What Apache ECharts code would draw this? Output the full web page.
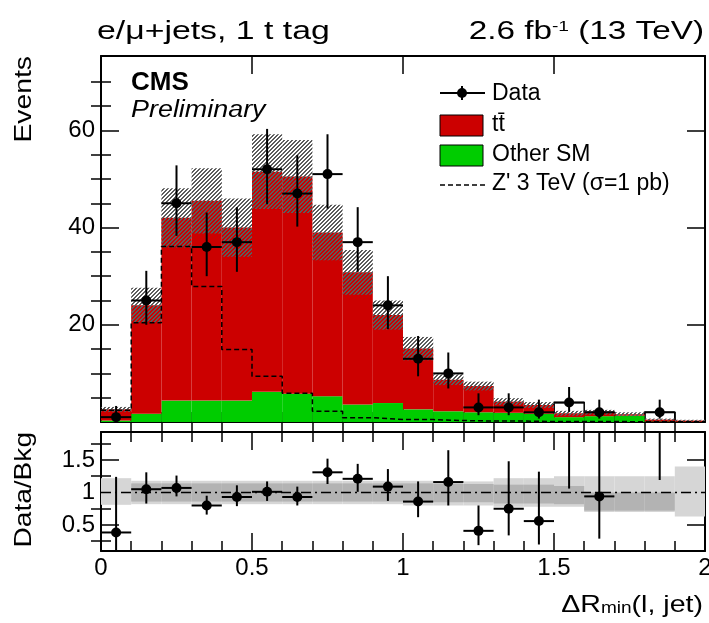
<!DOCTYPE html>
<html>
<head>
<meta charset="utf-8">
<script src="https://cdn.jsdelivr.net/npm/echarts@6/dist/echarts.min.js"></script>
<style>
  html, body { margin: 0; padding: 0; background: #fff; }
  #chart { width: 709px; height: 623px; }
</style>
</head>
<body>
<div id="chart"></div>
<script>
// binning of dR_min(l, jet)
const binEdges = [0, 0.1, 0.2, 0.3, 0.4, 0.5, 0.6, 0.7, 0.8, 0.9, 1.0,
  1.1, 1.2, 1.3, 1.4, 1.5, 1.6, 1.7, 1.8, 1.9, 2.0];
// stacked backgrounds (events per bin)
const ttbar = [2.3, 22.3, 37.6, 41.1, 35.6, 45.3, 44.7, 33.7, 27.2, 18.1,
  12.5, 6.5, 5.4, 2.3, 1.8, 0.8, 0.8, 0.3, 0.4, 0.25];
const otherSM = [0.3, 1.7, 4.4, 4.4, 4.4, 6.2, 5.8, 5.3, 3.6, 3.9,
  2.6, 2.2, 2.0, 1.9, 1.7, 1.0, 1.2, 1.3, 0.1, 0.05];
// half width of the hatched uncertainty band
const bkgUnc = [0.5, 3.6, 6.1, 6.7, 6.0, 7.7, 7.5, 5.7, 4.6, 3.0,
  2.4, 1.1, 0.9, 0.7, 0.6, 0.5, 0.5, 0.4, 0.2, 0.15];
// Z' 3 TeV signal, dashed
const zPrime = [2.4, 20.4, 36.1, 27.9, 14.9, 9.4, 5.9, 2.2, 0.9, 0.5,
  0.5, 0.3, 0.2, 0.2, 0.1, 0.1, 0.1, 0.05, 0.05, 0.05];
// data with error bar ends
const data = [1, 25, 45, 36, 37, 52, 47, 51, 37, 24, 13, 10, 3, 3, 2, 4, 2, null, 2, null];
const dataLo = [0.17, 20.0, 38.3, 30.0, 30.9, 44.8, 40.2, 43.9, 30.9, 19.1,
  9.4, 6.9, 1.4, 1.4, 0.7, 2.1, 0.7, null, 0.7, null];
const dataHi = [3.3, 31.1, 52.8, 43.1, 44.2, 60.3, 54.9, 59.2, 44.2, 30.0,
  17.7, 14.3, 5.9, 5.9, 4.6, 7.2, 4.6, null, 4.6, null];
// open boxes seen in the tail bins
const tailBox = [null, null, null, null, null, null, null, null, null, null,
  null, null, null, null, null, 4, 2, null, 2, null];
// ratio panel
const ratio = [0.385, 1.05, 1.07, 0.80, 0.93, 1.01, 0.93, 1.31, 1.21, 1.09,
  0.86, 1.16, 0.41, 0.75, 0.56, 2.1, 0.94, null, 3.3, null];
const ratioLo = [0.06, 0.83, 0.94, 0.66, 0.79, 0.87, 0.80, 1.13, 1.01, 0.87,
  0.62, 0.80, 0.19, 0.34, 0.20, 1.06, 0.29, null, 1.19, null];
const ratioHi = [1.24, 1.31, 1.26, 0.95, 1.11, 1.17, 1.09, 1.52, 1.44, 1.36,
  1.17, 1.65, 0.80, 1.48, 1.32, 3.7, 2.2, null, 7.0, null];
const outerLo = [0.81, 0.82, 0.82, 0.82, 0.82, 0.82, 0.82, 0.82, 0.82, 0.82,
  0.80, 0.80, 0.80, 0.78, 0.78, 0.78, 0.70, 0.70, 0.70, 0.63];
const outerHi = [1.22, 1.18, 1.18, 1.18, 1.18, 1.18, 1.18, 1.18, 1.18, 1.18,
  1.18, 1.17, 1.17, 1.22, 1.22, 1.25, 1.25, 1.25, 1.25, 1.40];
const innerLo = [null, 0.86, 0.86, 0.86, 0.86, 0.86, 0.86, 0.86, 0.86, 0.86,
  0.85, 0.85, 0.85, 0.83, 0.83, 0.82, 0.72, 0.72, 0.72, null];
const innerHi = [null, 1.14, 1.14, 1.14, 1.14, 1.14, 1.14, 1.14, 1.14, 1.14,
  1.14, 1.13, 1.13, 1.12, 1.12, 1.10, 1.0, 1.0, 1.0, null];
// axis ticks
const xMajor = [0, 0.5, 1, 1.5, 2];
const xMinor = [0.1, 0.2, 0.3, 0.4, 0.6, 0.7, 0.8, 0.9, 1.1, 1.2, 1.3, 1.4, 1.6, 1.7, 1.8, 1.9];
const yMajor = [20, 40, 60];
const yMinor = [5, 10, 15, 25, 30, 35, 45, 50, 55, 65, 70];
const rMajor = [0.5, 1, 1.5];
const rMinor = [0.25, 0.75, 1.25, 1.75];

const FONT = "'Liberation Sans', Arial, sans-serif";
const RED = '#cc0000';
const GREEN = '#00cc00';

const chart = echarts.init(document.getElementById('chart'));

// hatch pattern for the uncertainty band (2px diagonal every 4px)
function hatch(color) {
  const c = document.createElement('canvas');
  c.width = 4;
  c.height = 4;
  const g = c.getContext('2d');
  g.fillStyle = color;
  for (let i = 0; i < 4; i++) {
    g.fillRect(i, 3 - i, 1, 1);
    g.fillRect(i, (4 - i) % 4, 1, 1);
  }
  return c;
}

const nb = ttbar.length;
const idx = [...Array(nb).keys()];
const totals = idx.map(i => ttbar[i] + otherSM[i]);

const otherRects = idx.map(i => [binEdges[i], binEdges[i + 1], 0, otherSM[i]]);
const ttRects = idx.map(i => [binEdges[i], binEdges[i + 1], otherSM[i], totals[i]]);
const bandRects = idx.map(i => [binEdges[i], binEdges[i + 1], totals[i] - bkgUnc[i], totals[i] + bkgUnc[i]]);
const boxRects = idx.filter(i => tailBox[i] != null).map(i => [binEdges[i], binEdges[i + 1], 0, tailBox[i]]);
const outerRects = idx.map(i => [binEdges[i], binEdges[i + 1], outerLo[i], outerHi[i]]);
const innerRects = idx.filter(i => innerLo[i] != null)
  .map(i => [binEdges[i], binEdges[i + 1], innerLo[i], innerHi[i]]);
const dataPts = idx.filter(i => data[i] != null)
  .map(i => [binEdges[i], binEdges[i + 1], data[i], dataLo[i], dataHi[i]]);
const ratioPts = idx.filter(i => ratio[i] != null)
  .map(i => [binEdges[i], binEdges[i + 1], ratio[i], ratioLo[i], ratioHi[i]]);
// step line: value held from each lower edge, closed at x = 2
const zpLine = idx.map(i => [binEdges[i], zPrime[i]]).concat([[2, zPrime[nb - 1]]]);

function binRect(params, api) {
  const p0 = api.coord([api.value(0), api.value(2)]);
  const p1 = api.coord([api.value(1), api.value(3)]);
  return {
    type: 'rect',
    shape: { x: p0[0], y: p1[1], width: p1[0] - p0[0], height: p0[1] - p1[1] },
    style: api.style()
  };
}

function errPoint(params, api) {
  const x0 = api.value(0), x1 = api.value(1), xc = (x0 + x1) / 2;
  const c = api.coord([xc, api.value(2)]);
  const l = api.coord([x0, api.value(2)]);
  const r = api.coord([x1, api.value(2)]);
  const lo = api.coord([xc, api.value(3)]);
  const hi = api.coord([xc, api.value(4)]);
  const st = { stroke: '#000', lineWidth: 2 };
  return {
    type: 'group',
    children: [
      { type: 'line', shape: { x1: l[0], y1: c[1], x2: r[0], y2: c[1] }, style: st },
      { type: 'line', shape: { x1: c[0], y1: lo[1], x2: c[0], y2: hi[1] }, style: st },
      { type: 'circle', shape: { cx: c[0], cy: c[1], r: 5 }, style: { fill: '#000' } }
    ]
  };
}

// per side: one axis with the frame line and long ticks, one with short ticks
function xAxes(gi, labels) {
  const base = { type: 'value', gridIndex: gi, min: 0, max: 2, splitLine: { show: false } };
  const line = { show: true, onZero: false, lineStyle: { color: '#000', width: 2 } };
  const tick = (vals, len) => ({ show: true, inside: true, length: len, customValues: vals,
    lineStyle: { color: '#000', width: 1.5 } });
  return [
    Object.assign({}, base, { position: 'bottom', axisLine: line, axisTick: tick(xMajor, 18),
      axisLabel: labels ? { show: true, customValues: xMajor, margin: 5, color: '#000',
        fontFamily: FONT, fontSize: 24, formatter: v => String(v) } : { show: false } }),
    Object.assign({}, base, { position: 'bottom', axisLine: { show: false }, axisTick: tick(xMinor, 10), axisLabel: { show: false } }),
    Object.assign({}, base, { position: 'top', axisLine: line, axisTick: tick(xMajor, 18), axisLabel: { show: false } }),
    Object.assign({}, base, { position: 'top', axisLine: { show: false }, axisTick: tick(xMinor, 10), axisLabel: { show: false } })
  ];
}
function yAxes(gi, min, max, major, minor) {
  const base = { type: 'value', gridIndex: gi, min: min, max: max, splitLine: { show: false } };
  const line = { show: true, onZero: false, lineStyle: { color: '#000', width: 2 } };
  const tick = (vals, len) => ({ show: true, inside: true, length: len, customValues: vals,
    lineStyle: { color: '#000', width: 1.5 } });
  return [
    Object.assign({}, base, { position: 'left', axisLine: line, axisTick: tick(major, 18),
      axisLabel: { show: true, customValues: major, margin: 6, color: '#000',
        fontFamily: FONT, fontSize: 24, formatter: v => String(v) } }),
    Object.assign({}, base, { position: 'left', axisLine: { show: false }, axisTick: tick(minor, 10), axisLabel: { show: false } }),
    Object.assign({}, base, { position: 'right', axisLine: line, axisTick: tick(major, 18), axisLabel: { show: false } }),
    Object.assign({}, base, { position: 'right', axisLine: { show: false }, axisTick: tick(minor, 10), axisLabel: { show: false } })
  ];
}

// text helper; sx stretches the text along its own direction
const txt = (x, y, text, font, extra, sx) => ({
  type: 'text', x: x, y: y, scaleX: sx || 1,
  style: Object.assign({ text: text, font: font, fill: '#000', verticalAlign: 'middle' }, extra || {})
});

const option = {
  animation: false,
  backgroundColor: '#fff',
  grid: [
    { left: 101, right: 4, top: 56, height: 366, outerBoundsMode: 'none' },
    { left: 101, right: 4, top: 432, height: 119, outerBoundsMode: 'none' }
  ],
  xAxis: xAxes(0, false).concat(xAxes(1, true)),
  yAxis: yAxes(0, 0, 75.3, yMajor, yMinor).concat(yAxes(1, 0.1, 1.93, rMajor, rMinor)),
  series: [
    { type: 'custom', name: 'tail boxes', xAxisIndex: 0, yAxisIndex: 0, data: boxRects,
      renderItem: binRect, itemStyle: { color: 'rgba(0,0,0,0)', borderColor: '#000', borderWidth: 1.5 }, z: 1 },
    { type: 'custom', name: 'Other SM', xAxisIndex: 0, yAxisIndex: 0, data: otherRects,
      renderItem: binRect, itemStyle: { color: GREEN }, z: 2 },
    { type: 'custom', name: 'tt', xAxisIndex: 0, yAxisIndex: 0, data: ttRects,
      renderItem: binRect, itemStyle: { color: RED }, z: 2 },
    { type: 'custom', name: 'unc', xAxisIndex: 0, yAxisIndex: 0, data: bandRects,
      renderItem: binRect, itemStyle: { color: { image: hatch('#5c5c5c'), repeat: 'repeat' } }, z: 3 },
    { type: 'line', name: "Z'", xAxisIndex: 0, yAxisIndex: 0, data: zpLine, step: 'end',
      symbol: 'none', lineStyle: { color: '#000', width: 1.5, type: [5, 3] }, z: 4 },
    { type: 'custom', name: 'Data', xAxisIndex: 0, yAxisIndex: 0, data: dataPts,
      renderItem: errPoint, clip: true, z: 5 },
    { type: 'custom', name: 'outer', xAxisIndex: 4, yAxisIndex: 4, data: outerRects,
      renderItem: binRect, itemStyle: { color: '#d6d6d6' }, z: 2 },
    { type: 'custom', name: 'inner', xAxisIndex: 4, yAxisIndex: 4, data: innerRects,
      renderItem: binRect, itemStyle: { color: '#b3b3b3' }, z: 2 },
    { type: 'line', name: 'one', xAxisIndex: 4, yAxisIndex: 4, data: [[0, 1], [2, 1]],
      symbol: 'none', lineStyle: { color: '#000', width: 1.5, type: [10, 4, 2, 4] }, z: 3 },
    { type: 'custom', name: 'ratio', xAxisIndex: 4, yAxisIndex: 4, data: ratioPts,
      renderItem: errPoint, clip: true, z: 5 }
  ],
  graphic: [
    txt(97, 32, 'e/\u03bc+jets, 1 t tag', '26px ' + FONT, null, 1.3),
    { type: 'text', x: 704, y: 32, scaleX: 1.28, style: { text: '{a|2.6 fb}{s|-1}{a| (13 TeV)}', align: 'right',
      verticalAlign: 'middle', rich: { a: { font: '26px ' + FONT, fill: '#000' },
        s: { font: '15px ' + FONT, fill: '#000', verticalAlign: 'top' } } } },
    txt(131, 83, 'CMS', 'bold 26px ' + FONT),
    txt(131, 111, 'Preliminary', 'italic 23px ' + FONT, null, 1.17),
    Object.assign(txt(24, 56, 'Events', '24px ' + FONT, { align: 'right' }, 1.18), { rotation: Math.PI / 2 }),
    Object.assign(txt(24, 432, 'Data/Bkg', '24px ' + FONT, { align: 'right' }, 1.17), { rotation: Math.PI / 2 }),
    { type: 'text', x: 703, y: 605, scaleX: 1.19, style: { text: '{a|\u0394R}{b|min}{a|(l, jet)}', align: 'right',
      verticalAlign: 'middle', rich: { a: { font: '24px ' + FONT, fill: '#000' },
        b: { font: '16px ' + FONT, fill: '#000', verticalAlign: 'bottom' } } } },
    // legend
    { type: 'line', shape: { x1: 440, y1: 93, x2: 485, y2: 93 }, style: { stroke: '#000', lineWidth: 2 } },
    { type: 'line', shape: { x1: 462, y1: 86, x2: 462, y2: 100 }, style: { stroke: '#000', lineWidth: 2 } },
    { type: 'circle', shape: { cx: 462, cy: 93, r: 5 }, style: { fill: '#000' } },
    txt(492, 94, 'Data', '23px ' + FONT),
    { type: 'rect', shape: { x: 440, y: 115, width: 43, height: 21 }, style: { fill: RED, stroke: '#000', lineWidth: 1 } },
    txt(492, 125, 'tt\u0304', '23px ' + FONT),
    { type: 'rect', shape: { x: 440, y: 145, width: 43, height: 21 }, style: { fill: GREEN, stroke: '#000', lineWidth: 1 } },
    txt(492, 155, 'Other SM', '23px ' + FONT),
    { type: 'line', shape: { x1: 440, y1: 185, x2: 485, y2: 185 }, style: { stroke: '#000', lineWidth: 1.5, lineDash: [5, 3] } },
    txt(492, 184, "Z' 3 TeV (\u03c3=1 pb)", '23px ' + FONT)
  ]
};

chart.setOption(option);
</script>
</body>
</html>
